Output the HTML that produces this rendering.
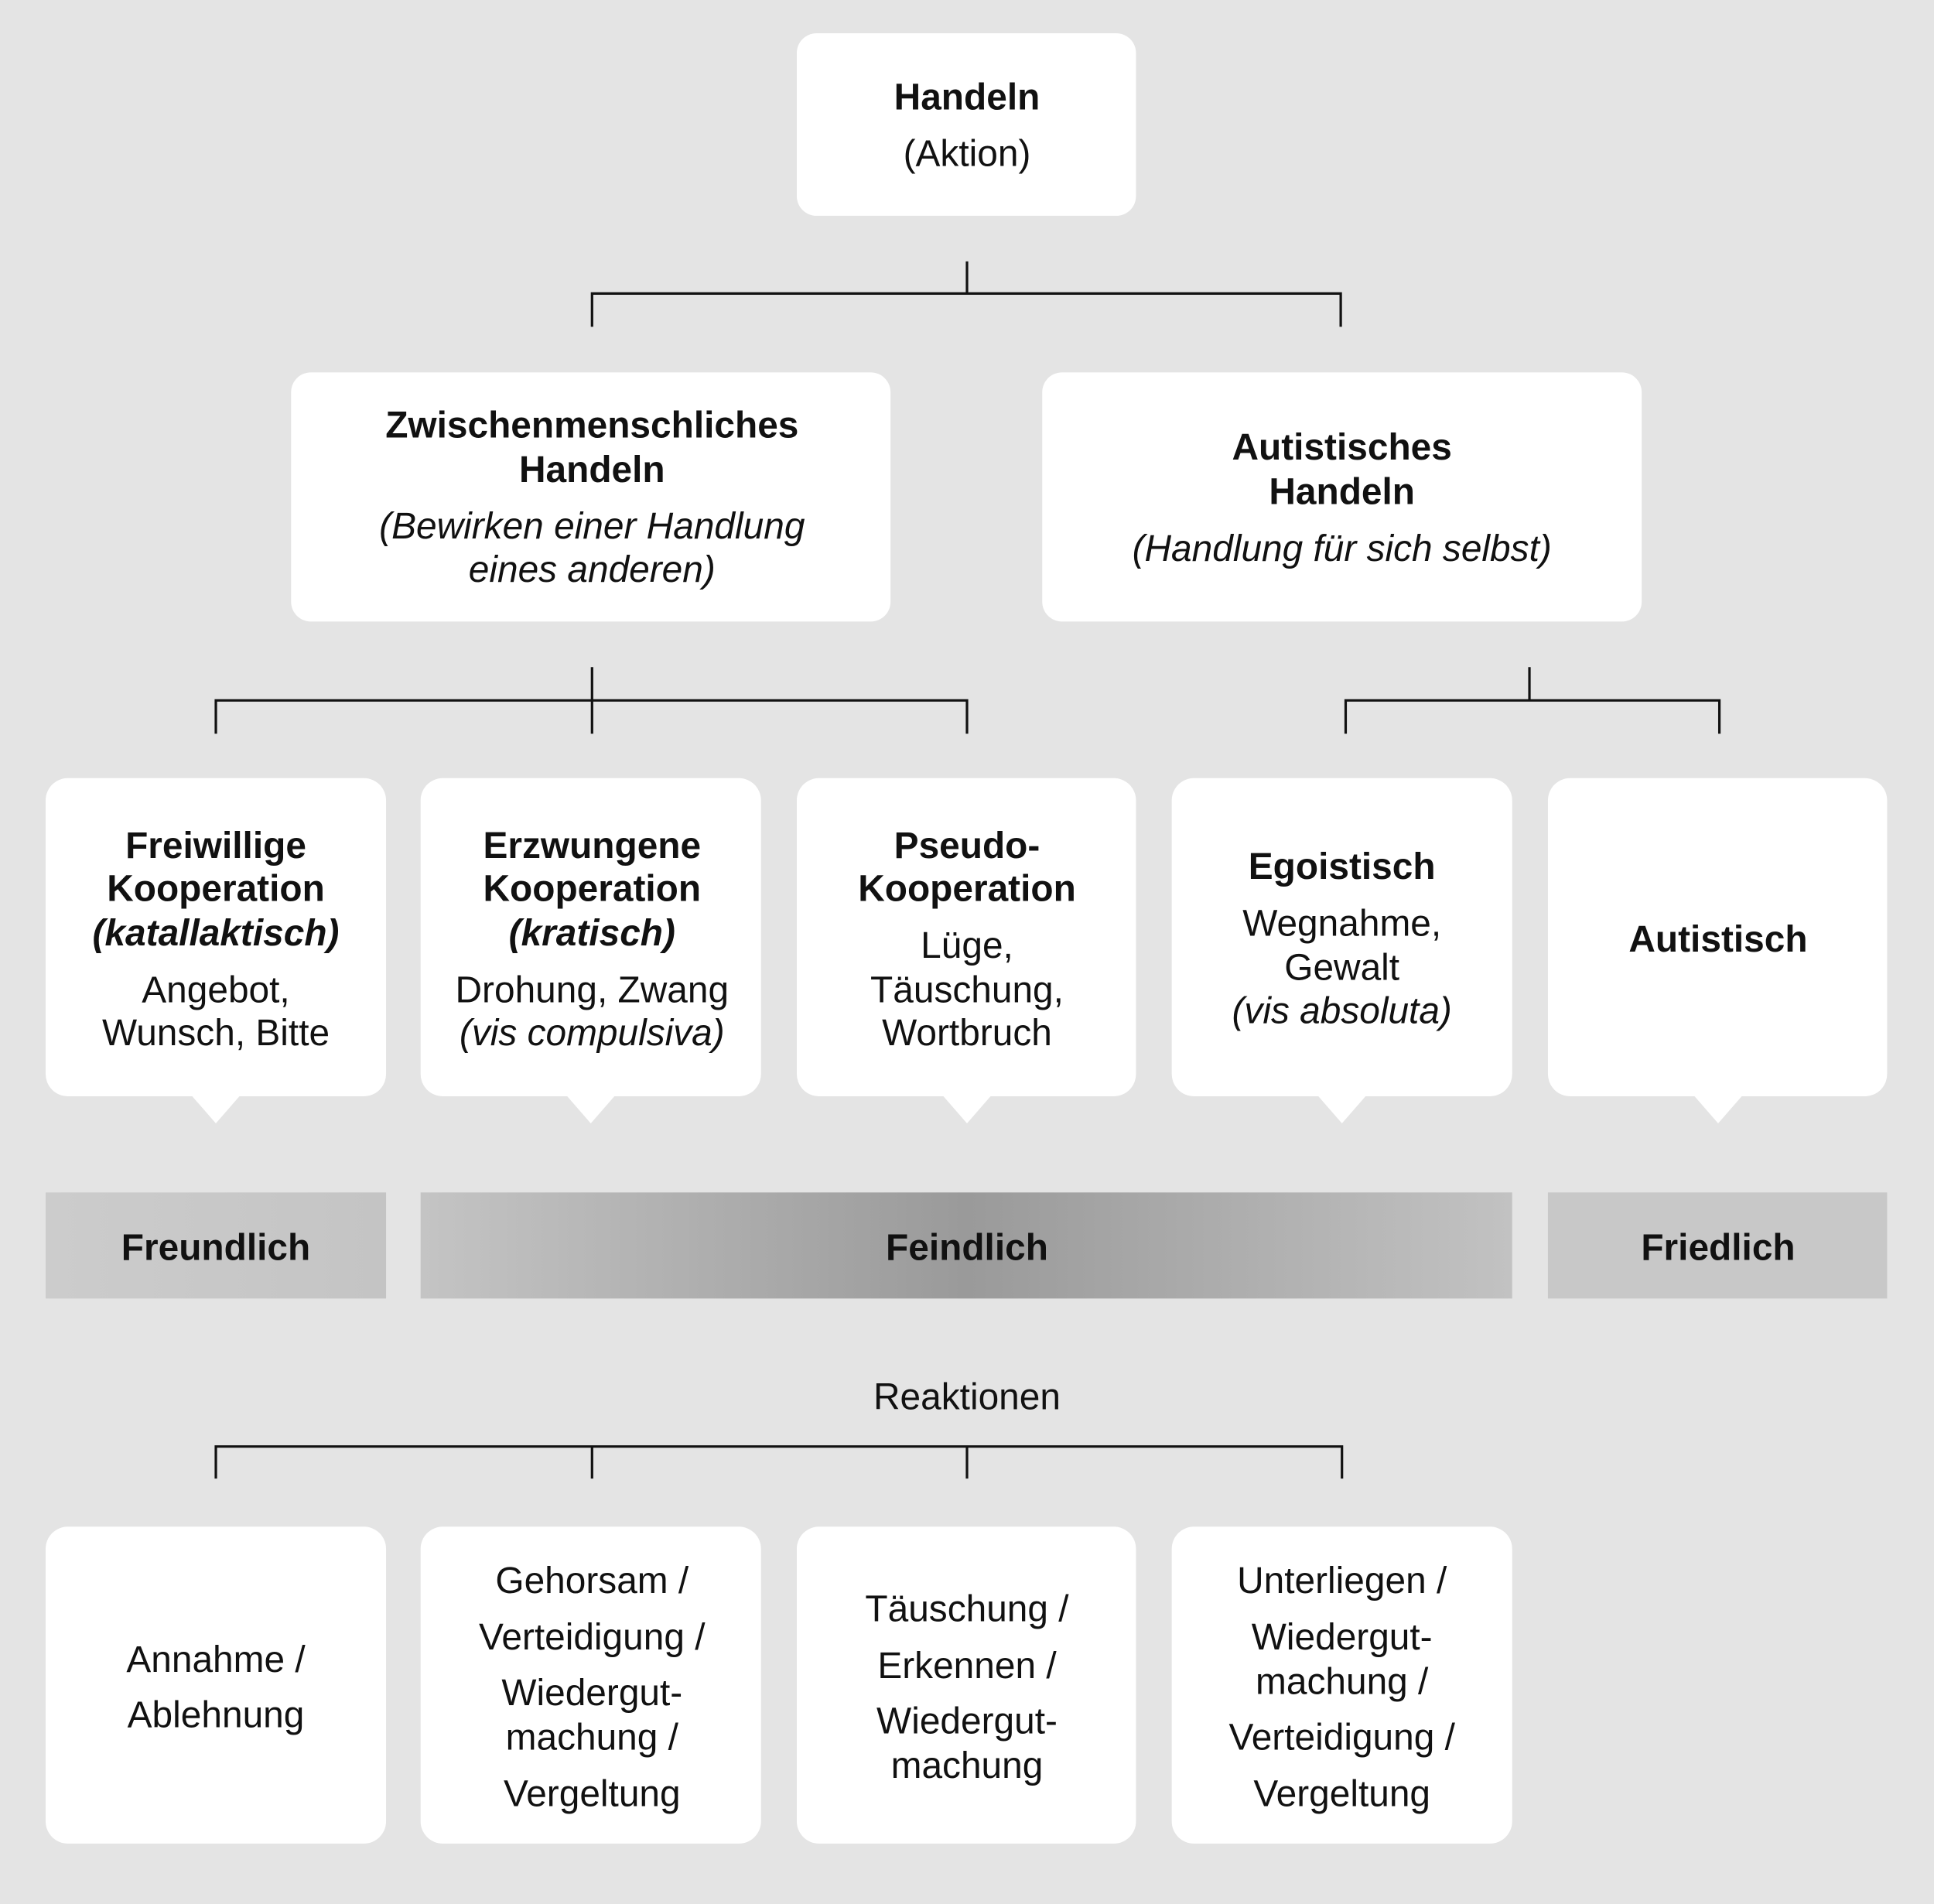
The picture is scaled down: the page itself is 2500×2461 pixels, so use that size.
<!DOCTYPE html>
<html><head><meta charset="utf-8"><style>
html,body{margin:0;padding:0;background:#e4e4e4;}
svg{display:block;}
text{font-family:"Liberation Sans",sans-serif;font-size:30px;fill:#111;text-anchor:middle;dominant-baseline:central;}
.b{font-weight:bold;}
.i{font-style:italic;}
</style></head><body>
<svg width="2500" height="2461" viewBox="0 0 1568 1544" preserveAspectRatio="none" xmlns="http://www.w3.org/2000/svg">
<defs>
<linearGradient id="g" x1="0" x2="1" y1="0" y2="0">
<stop offset="0" stop-color="#c4c4c4"/><stop offset="0.5" stop-color="#9a9a9a"/><stop offset="1" stop-color="#c2c2c2"/>
</linearGradient>
<linearGradient id="g2" x1="0" x2="1"><stop offset="0" stop-color="#cccccc"/><stop offset="1" stop-color="#c4c4c4"/></linearGradient>
</defs>
<rect width="1568" height="1544" fill="#e4e4e4"/>
<g stroke="#111" stroke-width="2" fill="none">
<path d="M784 212V238M480 265V238H1087V265"/>
<path d="M480 541V595M175 595V568H784V595"/>
<path d="M1240 541V568M1091 595V568H1394V595"/>
<path d="M175 1199V1173H1088V1199M480 1173V1199M784 1173V1199"/>
</g>
<g fill="#fff">
<rect x="646" y="27" width="275" height="148" rx="16"/>
<rect x="236" y="302" width="486" height="202" rx="16"/>
<rect x="845" y="302" width="486" height="202" rx="16"/>
<rect x="37" y="631" width="276" height="258" rx="18"/>
<rect x="341" y="631" width="276" height="258" rx="18"/>
<rect x="646" y="631" width="275" height="258" rx="18"/>
<rect x="950" y="631" width="276" height="258" rx="18"/>
<rect x="1255" y="631" width="275" height="258" rx="18"/>
<polygon points="155,888 195,888 175,911"/>
<polygon points="459,888 499,888 479,911"/>
<polygon points="764,888 804,888 784,911"/>
<polygon points="1068,888 1108,888 1088,911"/>
<polygon points="1373,888 1413,888 1393,911"/>
<rect x="37" y="1238" width="276" height="257" rx="18"/>
<rect x="341" y="1238" width="276" height="257" rx="18"/>
<rect x="646" y="1238" width="275" height="257" rx="18"/>
<rect x="950" y="1238" width="276" height="257" rx="18"/>
</g>
<rect x="37" y="967" width="276" height="86" fill="url(#g2)"/>
<rect x="341" y="967" width="885" height="86" fill="url(#g)"/>
<rect x="1255" y="967" width="275" height="86" fill="#c8c8c8"/>

<text class="b" x="784" y="79">Handeln</text>
<text x="784" y="125">(Aktion)</text>

<text class="b" x="480" y="345">Zwischenmenschliches</text>
<text class="b" x="480" y="381">Handeln</text>
<text class="i" x="480" y="427">(Bewirken einer Handlung</text>
<text class="i" x="480" y="462">eines anderen)</text>

<text class="b" x="1088" y="363">Autistisches</text>
<text class="b" x="1088" y="399">Handeln</text>
<text class="i" x="1088" y="445">(Handlung für sich selbst)</text>

<text class="b" x="175" y="686">Freiwillige</text>
<text class="b" x="175" y="721">Kooperation</text>
<text class="b i" x="175" y="757">(katallaktisch)</text>
<text x="175" y="803">Angebot,</text>
<text x="175" y="838">Wunsch, Bitte</text>

<text class="b" x="480" y="686">Erzwungene</text>
<text class="b" x="480" y="721">Kooperation</text>
<text class="b i" x="480" y="757">(kratisch)</text>
<text x="480" y="803">Drohung, Zwang</text>
<text class="i" x="480" y="838">(vis compulsiva)</text>

<text class="b" x="784" y="686">Pseudo-</text>
<text class="b" x="784" y="721">Kooperation</text>
<text x="784" y="767">Lüge,</text>
<text x="784" y="803">Täuschung,</text>
<text x="784" y="838">Wortbruch</text>

<text class="b" x="1088" y="703">Egoistisch</text>
<text x="1088" y="749">Wegnahme,</text>
<text x="1088" y="785">Gewalt</text>
<text class="i" x="1088" y="820">(vis absoluta)</text>

<text class="b" x="1393" y="762">Autistisch</text>

<text class="b" x="175" y="1012">Freundlich</text>
<text class="b" x="784" y="1012">Feindlich</text>
<text class="b" x="1393" y="1012">Friedlich</text>

<text x="784" y="1133">Reaktionen</text>

<text x="175" y="1346">Annahme /</text>
<text x="175" y="1391">Ablehnung</text>

<text x="480" y="1282">Gehorsam /</text>
<text x="480" y="1328">Verteidigung /</text>
<text x="480" y="1373">Wiedergut-</text>
<text x="480" y="1409">machung /</text>
<text x="480" y="1455">Vergeltung</text>

<text x="784" y="1305">Täuschung /</text>
<text x="784" y="1351">Erkennen /</text>
<text x="784" y="1396">Wiedergut-</text>
<text x="784" y="1432">machung</text>

<text x="1088" y="1282">Unterliegen /</text>
<text x="1088" y="1328">Wiedergut-</text>
<text x="1088" y="1364">machung /</text>
<text x="1088" y="1409">Verteidigung /</text>
<text x="1088" y="1455">Vergeltung</text>
</svg>
</body></html>
